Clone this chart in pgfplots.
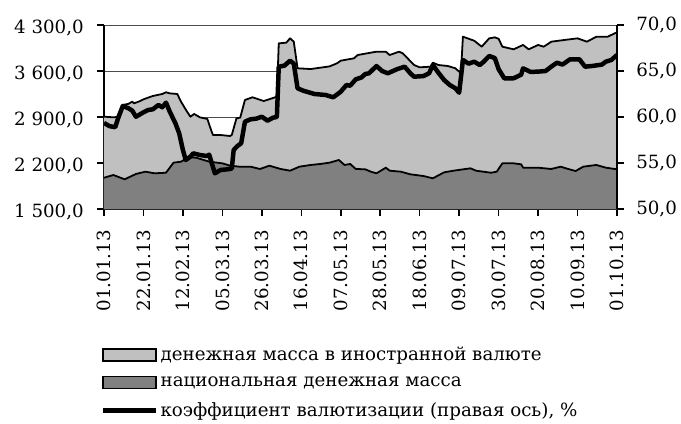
\documentclass[border=0pt]{standalone}
\usepackage{fontspec}
\setmainfont{DejaVu Serif}
\usepackage{pgfplots}
\usepackage{pgfplotstable}
\pgfplotsset{compat=1.18}
\definecolor{lightar}{RGB}{192,192,192}
\definecolor{darkar}{RGB}{128,128,128}
\pgfplotsset{
  boxlegA/.style={legend image code/.code={\draw[draw=black, line width=1.8pt, fill=lightar] (0bp,-6bp) rectangle (53bp,6bp);}},
  boxlegB/.style={legend image code/.code={\draw[draw=black, line width=1.8pt, fill=darkar] (0bp,-6bp) rectangle (53bp,6bp);}},
  lineleg/.style={legend image code/.code={\draw[black, line width=4.5pt] (0bp,0bp) -- (53bp,0bp);}},
}
\pgfplotstableread{
x y
0 2905
5 2895
7 2900
10 3083
13 3100
15 3133
16 3108
19 3140
21 3169
26 3220
31 3250
33 3276
35 3260
39 3250
41 3133
44 2990
46 2905
48 2946
51 2895
55 2870
57 2700
58 2626
62 2626
67 2611
68 2626
70.5 2880
72.5 2890
75 3159
79 3200
85 3143
89 3180
92 3209
93 4021
97 4031
99 4097
101 4046
103 3641
110 3630
115 3650
120 3670
124 3717
126 3757
133 3793
135 3843
140 3869
145 3894
150 3894
152 3843
157 3894
159 3869
165 3691
168 3656
174 3666
175 3727
178 3691
183 3676
187 3641
189 3589
190 3600
191 4122
197 4061
201 3970
205 4097
208 4112
210 4090
212 3970
218 3930
223 3996
226 3930
231 3996
234 3970
238 4046
245 4072
252 4097
257 4046
262 4122
268 4122
273 4189
}\foreign
\pgfplotstableread{
x y
0 1976
5 2017
11 1952
17 2033
22 2068
27 2043
33 2052
37 2205
41 2220
45 2286
49 2281
56 2220
63 2195
67 2160
72 2144
78 2144
83 2109
88 2159
94 2109
99 2083
104 2144
110 2170
115 2185
120 2205
125 2246
128 2170
131 2185
134 2109
139 2104
142 2068
145 2043
150 2129
152 2083
158 2068
163 2028
170 2002
175 1967
181 2058
186 2083
195 2119
198 2083
206 2052
209 2068
212 2195
218 2195
222 2180
223 2129
231 2129
238 2109
243 2144
247 2109
251 2078
255 2144
262 2170
267 2129
273 2104
}\national
\begin{document}
\fontsize{18.3}{22}\selectfont
\begin{tikzpicture}
\useasboundingbox (-104bp,-215bp) rectangle (577bp,209bp);
\pgfplotsset{
  every axis/.append style={
    width=513bp, height=184bp, scale only axis,
    xmin=0, xmax=273,
    tick align=outside, major tick length=7bp,
    axis line style={line width=1.6pt},
    tick style={black, line width=1.6pt},
    tick label style={font=\fontsize{18.3}{22}\selectfont},
  }
}
\begin{axis}[
  axis x line*=bottom, axis y line*=left,
  ymin=1500, ymax=4300,
  ytick={1500,2200,2900,3600,4300},
  yticklabels={{1 500,0},{2 200,0},{2 900,0},{3 600,0},{4 300,0}},
  yticklabel shift=7bp,
  yticklabel style={yshift=-3bp},
  ymajorgrids, major grid style={black!70, line width=0.7pt},
  xtick={0,21,...,273},
  xticklabels={01.01.13,22.01.13,12.02.13,05.03.13,26.03.13,16.04.13,07.05.13,28.05.13,18.06.13,09.07.13,30.07.13,20.08.13,10.09.13,01.10.13},
  xticklabel style={rotate=90, anchor=east},
  xticklabel shift=8bp,
  legend style={at={(axis description cs:-0.006,-0.735)}, anchor=north west, draw=none, fill=none,
    font=\fontsize{18.3}{22}\selectfont, row sep=9.5bp, inner sep=0pt, nodes={inner sep=2bp}},
  legend cell align=left,
]
\addplot[fill=lightar, draw=none, boxlegA] table[x=x, y=y] {\foreign} \closedcycle;
\addlegendentry{денежная масса в иностранной валюте}
\addplot[fill=darkar, draw=none, boxlegB] table[x=x, y=y] {\national} \closedcycle;
\addlegendentry{национальная денежная масса}
\addlegendimage{lineleg}
\addlegendentry{коэффициент валютизации (правая ось), \%}
\addplot[black, line width=1.8pt, line join=round, forget plot] table[x=x, y=y] {\foreign};
\addplot[black, line width=1.8pt, line join=round, forget plot] table[x=x, y=y] {\national};
\end{axis}
\begin{axis}[
  axis x line=none, axis y line*=right,
  ymin=50, ymax=70,
  ytick={50,55,60,65,70},
  yticklabels={{50,0},{55,0},{60,0},{65,0},{70,0}},
  yticklabel shift=6bp,
]
\addplot[black, line width=4.5pt, line join=round] coordinates {(0,59.35) (3,59.0) (6,58.9) (7.5,59.86) (10,61.2) (13,60.95) (15,60.7) (17,60.03) (21,60.51) (23.5,60.76) (26,60.84) (29,61.31) (31,61.05) (33,61.56) (35,60.58) (38,59.32) (40,58.23) (42,56.41) (43.5,55.33) (46,55.69) (47.5,56.05) (51,55.87) (54.6,55.76) (56,55.9) (59,53.88) (62,54.24) (66,54.32) (68,54.4) (69,56.41) (71,56.85) (73,57.14) (75,59.49) (78,59.75) (81,59.82) (84,60.03) (87,59.60) (90,59.93) (92,60.0) (93,65.47) (96,65.58) (99,66.12) (101,65.8) (103,63.12) (106,62.86) (112,62.50) (118,62.39) (122,62.14) (126,62.75) (129,63.48) (131,63.4) (134,64.10) (137,64.3) (139,64.67) (141,64.75) (145,65.54) (148,65.0) (151,64.75) (156,65.2) (160,65.47) (163,64.75) (165,64.38) (170,64.45) (173,64.75) (175,65.65) (178,64.8) (181,64.02) (184,63.48) (187,63.12) (189,62.64) (191,66.2) (194,65.8) (197,66.01) (200,65.65) (202,66.0) (205,66.63) (208,66.4) (210,65.2) (213,64.21) (218,64.21) (222,64.6) (223,65.29) (227,64.9) (231,64.93) (235,65.0) (238,65.47) (241,65.9) (244,65.7) (248,66.27) (253,66.27) (256,65.47) (260,65.55) (265,65.7) (267,66.01) (270,66.2) (273,66.74)};
\end{axis}
\end{tikzpicture}
\end{document}
